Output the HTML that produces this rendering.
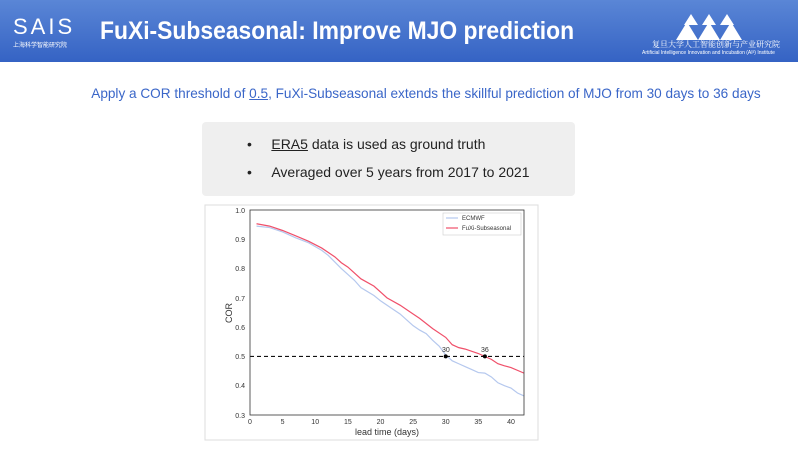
<!DOCTYPE html>
<html><head><meta charset="utf-8"><style>
body{margin:0;width:798px;height:451px;background:#fff;font-family:"Liberation Sans",sans-serif;overflow:hidden;position:relative}
.hdr{position:absolute;left:0;top:0;width:798px;height:62px;background:linear-gradient(#5a86d6,#3563c4)}
.t{position:absolute;color:#fff}
</style></head><body>
<div class="hdr"></div>
<div class="t" style="left:13px;top:14px;font-size:22px;letter-spacing:3px">SAIS</div>
<div class="t" style="left:13px;top:40px;font-size:6px;font-family:'Noto Sans CJK SC',sans-serif">上海科学智能研究院</div>
<div class="t" style="left:100px;top:17px;font-size:25px;font-weight:bold;transform:scaleX(0.915);transform-origin:0 0;white-space:nowrap">FuXi-Subseasonal: Improve MJO prediction</div>
<svg style="position:absolute;left:676px;top:12px" width="66" height="28"><polygon points="0,28 11,10 22,28" fill="#fff"/><polygon points="22,28 33,10 44,28" fill="#fff"/><polygon points="44,28 55,10 66,28" fill="#fff"/><polygon points="8,13 15,2 22,13" fill="#fff"/><polygon points="26,13 33,2 40,13" fill="#fff"/><polygon points="44,13 51,2 58,13" fill="#fff"/></svg>
<div class="t" style="left:652px;top:39px;font-size:8px;font-family:'Noto Serif CJK SC',serif">复旦大学人工智能创新与产业研究院</div>
<div class="t" style="left:642px;top:50px;font-size:5px">Artificial Intelligence Innovation and Incubation (AI³) Institute</div>
<div style="position:absolute;left:0;top:86px;width:852px;text-align:center;color:#3a66c8;font-size:13.6px">Apply a COR threshold of <u>0.5</u>, FuXi-Subseasonal extends the skillful prediction of MJO from 30 days to 36 days</div>
<div style="position:absolute;left:202px;top:122px;width:373px;height:74px;background:#efefef;border-radius:4px;font-size:14px;color:#222">
<div style="position:absolute;left:45px;top:14px">•&nbsp;&nbsp;&nbsp;&nbsp;&nbsp;<u>ERA5</u> data is used as ground truth</div>
<div style="position:absolute;left:45px;top:42px">•&nbsp;&nbsp;&nbsp;&nbsp;&nbsp;Averaged over 5 years from 2017 to 2021</div></div>
<svg style="position:absolute;left:0;top:0" width="798" height="451" font-family="Liberation Sans" font-size="7" fill="#333">
<rect x="205" y="205" width="333" height="235" fill="#fff" stroke="#ddd"/>
<g transform="translate(250,210) scale(6.524,-292.86) translate(0,-1)" fill="none">
<polyline vector-effect="non-scaling-stroke" stroke="#b5c8ee" stroke-width="1.2" points="1,.945 3,.94 5,.925 7,.905 9,.888 11,.862 12,.845 14,.8 16,.76 17,.735 19,.708 20,.69 22,.66 23,.645 24,.625 25,.605 26,.59 27,.578 28,.555 29,.535 30,.505 31,.485 32,.475 33,.465 34,.455 35,.445 36,.443 37,.43 38,.41 39,.4 40,.392 41,.375 42,.365"/>
<polyline vector-effect="non-scaling-stroke" stroke="#f0506a" stroke-width="1.2" points="1,.953 3,.945 5,.93 7,.912 9,.893 11,.87 13,.84 14,.82 15,.805 17,.765 19,.74 21,.70 23,.675 25,.645 26,.63 28,.595 30,.565 31,.54 32,.53 33,.525 35,.51 36,.50 37,.49 38,.475 39,.468 40,.462 42,.443"/>
<line vector-effect="non-scaling-stroke" x1="0" y1=".5" x2="42" y2=".5" stroke="#111" stroke-width="1.2" stroke-dasharray="4,3"/>
</g>
<circle cx="445.7" cy="356.4" r="2" fill="#000"/><circle cx="484.9" cy="356.4" r="2" fill="#000"/>
<text x="442" y="352">30</text><text x="481" y="352">36</text>
<rect x="250" y="210" width="274" height="205" fill="none" stroke="#333" stroke-width="0.8"/>
<g text-anchor="end">
<text x="245" y="213">1.0</text><text x="245" y="242">0.9</text><text x="245" y="271">0.8</text><text x="245" y="301">0.7</text><text x="245" y="330">0.6</text><text x="245" y="359">0.5</text><text x="245" y="388">0.4</text><text x="245" y="418">0.3</text></g>
<g text-anchor="middle">
<text x="250" y="424">0</text><text x="282.6" y="424">5</text><text x="315.2" y="424">10</text><text x="347.9" y="424">15</text><text x="380.5" y="424">20</text><text x="413.1" y="424">25</text><text x="445.7" y="424">30</text><text x="478.3" y="424">35</text><text x="511" y="424">40</text>
<text x="387" y="435" font-size="9">lead time (days)</text></g>
<text transform="translate(232,313) rotate(-90)" text-anchor="middle" font-size="9">COR</text>
<rect x="443" y="213" width="78" height="22" fill="#fff" stroke="#ccc" stroke-width="0.6"/>
<line x1="446" y1="218" x2="458" y2="218" stroke="#b5c8ee" stroke-width="1.2"/><text x="462" y="220" font-size="6">ECMWF</text>
<line x1="446" y1="228" x2="458" y2="228" stroke="#f0506a" stroke-width="1.2"/><text x="462" y="230" font-size="6">FuXi-Subseasonal</text>
</svg>
</body></html>
